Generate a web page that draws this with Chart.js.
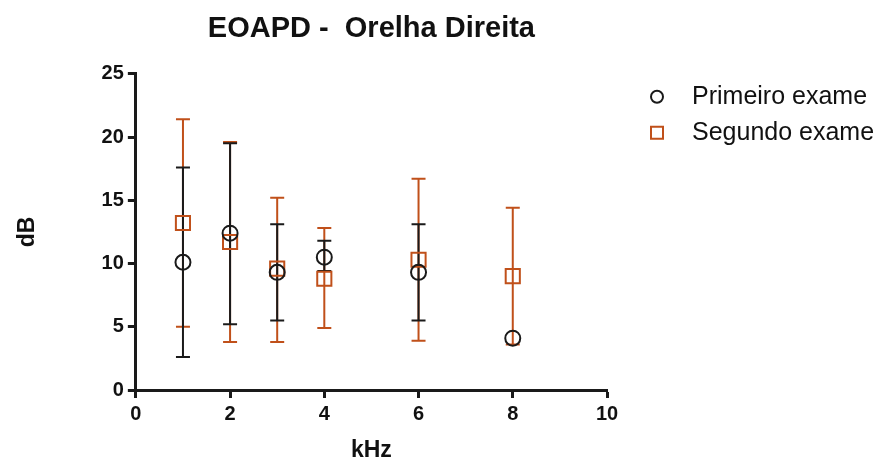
<!DOCTYPE html>
<html>
<head>
<meta charset="utf-8">
<script src="https://cdn.jsdelivr.net/npm/chart.js@4"></script>
<style>
  body { margin: 0; background: #fff; }
  #wrap { width: 879px; height: 462px; }
</style>
</head>
<body>
<div id="wrap"><canvas id="chart" width="879" height="462"></canvas></div>
<script>
// frequencies (kHz)
const xValues = [1, 2, 3, 4, 6, 8];
// Primeiro exame: mean, upper and lower error bar
const primeiroMean = [10.1, 12.4, 9.3, 10.5, 9.3, 4.1];
const primeiroHigh = [17.6, 19.5, 13.1, 11.8, 13.1, 4.1];
const primeiroLow = [2.6, 5.2, 5.5, 9.4, 5.5, 4.1];
// Segundo exame
const segundoMean = [13.2, 11.7, 9.6, 8.8, 10.3, 9.0];
const segundoHigh = [21.4, 19.6, 15.2, 12.8, 16.7, 14.4];
const segundoLow = [5.0, 3.8, 3.8, 4.9, 3.9, 3.6];

const xTicks = [0, 2, 4, 6, 8, 10];
const yTicks = [0, 5, 10, 15, 20, 25];

const BLACK = "#1a1a1a";
const ORANGE = "#c0501a";
const FONT = "'Liberation Sans', Arial, sans-serif";

function toPoints(mean) {
    return xValues.map((x, i) => ({ x: x, y: mean[i] }));
}

// error bars drawn under the markers
const errorBars = {
    id: "errorBars",
    beforeDatasetsDraw(chart) {
        const ctx = chart.ctx;
        const xs = chart.scales.x, ys = chart.scales.y;
        const sets = [
            { low: segundoLow, high: segundoHigh, color: ORANGE },
            { low: primeiroLow, high: primeiroHigh, color: BLACK }
        ];
        ctx.save();
        ctx.lineWidth = 2;
        sets.forEach(s => {
            ctx.strokeStyle = s.color;
            xValues.forEach((x, i) => {
                if (s.low[i] === s.high[i]) return;
                const px = xs.getPixelForValue(x);
                const top = ys.getPixelForValue(s.high[i]);
                const bot = ys.getPixelForValue(s.low[i]);
                ctx.beginPath();
                ctx.moveTo(px, top); ctx.lineTo(px, bot);
                ctx.moveTo(px - 7, top); ctx.lineTo(px + 7, top);
                ctx.moveTo(px - 7, bot); ctx.lineTo(px + 7, bot);
                ctx.stroke();
            });
        });
        ctx.restore();
    }
};

// legend on the right of the plot
const sideLegend = {
    id: "sideLegend",
    afterDraw(chart) {
        const ctx = chart.ctx;
        const a = chart.chartArea;
        const items = [
            { label: "Primeiro exame", style: "circle", color: BLACK, y: a.top + 23 },
            { label: "Segundo exame", style: "rect", color: ORANGE, y: a.top + 59 }
        ];
        ctx.save();
        items.forEach(it => {
            ctx.strokeStyle = it.color;
            ctx.lineWidth = 2;
            ctx.beginPath();
            if (it.style === "circle") {
                ctx.arc(a.right + 50, it.y, 6, 0, Math.PI * 2);
            } else {
                ctx.rect(a.right + 44, it.y - 6, 12, 12);
            }
            ctx.stroke();
            ctx.fillStyle = "#111";
            ctx.font = "25px " + FONT;
            ctx.textBaseline = "middle";
            ctx.fillText(it.label, a.right + 85, it.y);
        });
        ctx.restore();
    }
};

const ctx = document.getElementById("chart").getContext("2d");
new Chart(ctx, {
    type: "scatter",
    data: {
        datasets: [
            {
                label: "Primeiro exame",
                data: toPoints(primeiroMean),
                pointStyle: "circle",
                pointRadius: 7.5,
                pointBorderWidth: 2,
                borderColor: BLACK,
                backgroundColor: "rgba(255,255,255,0)"
            },
            {
                label: "Segundo exame",
                data: toPoints(segundoMean),
                pointStyle: "rect",
                pointRadius: 10,
                pointBorderWidth: 2,
                borderColor: ORANGE,
                backgroundColor: "rgba(255,255,255,0)"
            }
        ]
    },
    options: {
        responsive: false,
        animation: false,
        layout: { padding: { left: 14, right: 272, top: 0, bottom: 0 } },
        plugins: {
            legend: { display: false },
            tooltip: { enabled: false },
            title: {
                display: true,
                text: "EOAPD -  Orelha Direita",
                fullSize: false,
                color: "#111",
                font: { family: FONT, size: 29, weight: "bold" },
                padding: { top: 12, bottom: 27 }
            }
        },
        scales: {
            x: {
                type: "linear",
                min: 0, max: 10,
                afterBuildTicks: axis => { axis.ticks = xTicks.map(v => ({ value: v })); },
                grid: { drawOnChartArea: false, color: BLACK, tickLength: 8, tickWidth: 3 },
                border: { color: BLACK, width: 3 },
                ticks: { color: "#111", padding: 4, font: { family: FONT, size: 20, weight: "bold" } },
                title: {
                    display: true, text: "kHz", color: "#111",
                    font: { family: FONT, size: 23, weight: "bold", lineHeight: 1 },
                    padding: { top: 9, bottom: 0 }
                }
            },
            y: {
                min: 0, max: 25,
                afterBuildTicks: axis => { axis.ticks = yTicks.map(v => ({ value: v })); },
                grid: { drawOnChartArea: false, color: BLACK, tickLength: 8, tickWidth: 3 },
                border: { color: BLACK, width: 3 },
                ticks: { color: "#111", padding: 4, font: { family: FONT, size: 20, weight: "bold" } },
                title: {
                    display: true, text: "dB", color: "#111",
                    font: { family: FONT, size: 23, weight: "bold" },
                    padding: { top: 0, bottom: 56 }
                }
            }
        }
    },
    plugins: [errorBars, sideLegend]
});
</script>
</body>
</html>
